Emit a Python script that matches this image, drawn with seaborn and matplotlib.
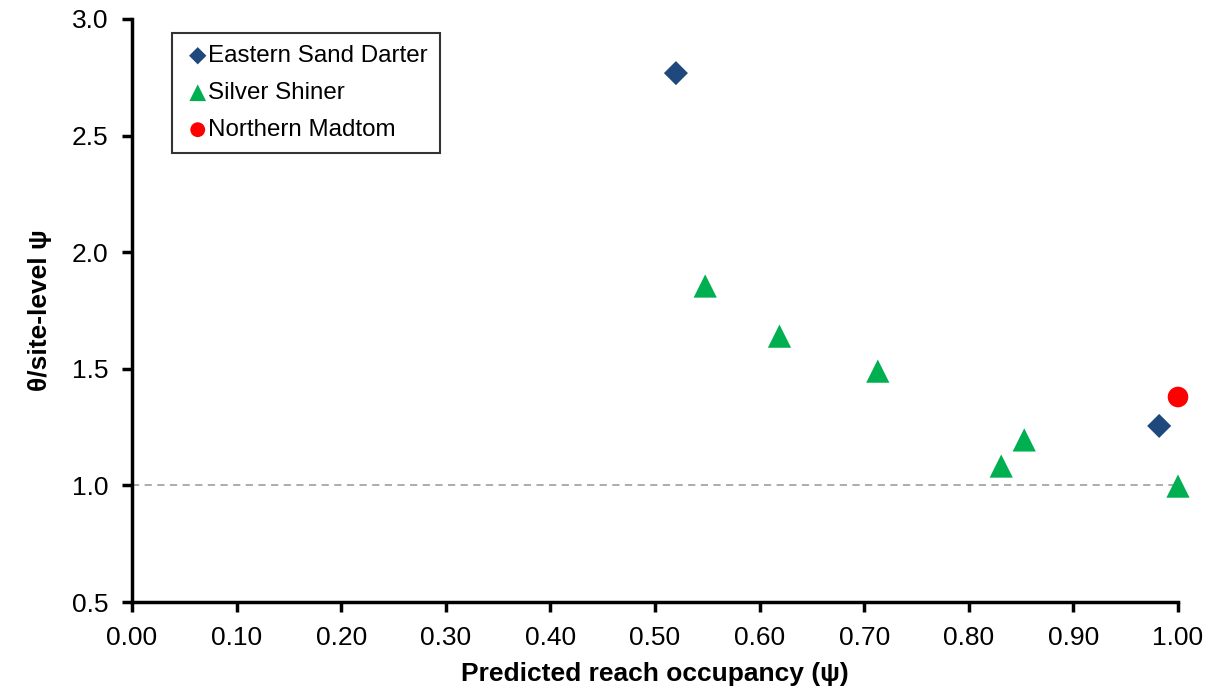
import matplotlib
matplotlib.use("Agg")
import matplotlib.pyplot as plt
import seaborn as sns
import pandas as pd

esd_x = [0.520, 0.982]
esd_y = [2.768, 1.255]
ss_x = [0.548, 0.619, 0.713, 0.831, 0.853, 1.000]
ss_y = [1.855, 1.640, 1.490, 1.083, 1.195, 0.997]
nm_x = [1.000]
nm_y = [1.379]
species = ["Eastern Sand Darter", "Silver Shiner", "Northern Madtom"]
x_ticks = [0.0, 0.1, 0.2, 0.3, 0.4, 0.5, 0.6, 0.7, 0.8, 0.9, 1.0]
y_ticks = [0.5, 1.0, 1.5, 2.0, 2.5, 3.0]

df = pd.DataFrame({
    "x": esd_x + ss_x + nm_x,
    "y": esd_y + ss_y + nm_y,
    "species": [species[0]] * len(esd_x) + [species[1]] * len(ss_x) + [species[2]] * len(nm_x),
})

sns.set_style("white")
plt.rcParams["font.family"] = ["Liberation Sans", "DejaVu Sans"]
plt.rcParams["text.color"] = "black"
plt.rcParams["axes.labelcolor"] = "black"

fig = plt.figure(figsize=(12.15, 6.94), dpi=100)
ax = fig.add_axes([132 / 1215, 1 - 602 / 694, (1178 - 132) / 1215, (602 - 19) / 694])

ax.axhline(1.0, color="#a6a6a6", linestyle=(0, (4, 3)), linewidth=1.3, zorder=1)

palette = {species[0]: "#1f497d", species[1]: "#00b050", species[2]: "#ff0000"}
markers = {species[0]: "D", species[1]: "^", species[2]: "o"}
sizes = {species[0]: 150, species[1]: 280, species[2]: 220}
for sp in species:
    sub = df[df.species == sp]
    sns.scatterplot(data=sub, x="x", y="y", ax=ax, color=palette[sp], marker=markers[sp],
                    s=sizes[sp], edgecolor="none", label=sp, zorder=3, clip_on=False)

ax.set_xlim(0, 1.0)
ax.set_ylim(0.5, 3.0)
ax.set_xticks(x_ticks)
ax.set_xticklabels([f"{t:.2f}" for t in x_ticks])
ax.set_yticks(y_ticks)
ax.set_yticklabels([f"{t:.1f}" for t in y_ticks])
for s in ["top", "right"]:
    ax.spines[s].set_visible(False)
for s in ["left", "bottom"]:
    ax.spines[s].set_linewidth(2.5)
    ax.spines[s].set_color("black")
ax.tick_params(axis="both", which="major", direction="out", length=7, width=2.5,
               labelsize=19, color="black", labelcolor="black", left=True, bottom=True)
ax.tick_params(axis="x", pad=10)
ax.tick_params(axis="y", pad=10)
ax.set_xlabel("Predicted reach occupancy (ψ)", fontsize=19, fontweight="bold", labelpad=9)
ax.set_ylabel("θ/site-level ψ", fontsize=19, fontweight="bold", labelpad=14)

leg = ax.legend(loc="upper left", bbox_to_anchor=(0.038, 0.976), fontsize=17.4, frameon=True,
                fancybox=False, edgecolor="black", handletextpad=-0.15, borderpad=0.5,
                labelspacing=0.62, markerscale=0.72, handlelength=1.15, borderaxespad=0.0)
leg.get_frame().set_linewidth(1.5)
leg.get_frame().set_boxstyle("square", pad=0.0)
for t in leg.get_texts():
    t.set_color("black")

fig.savefig("out.png", dpi=100)
